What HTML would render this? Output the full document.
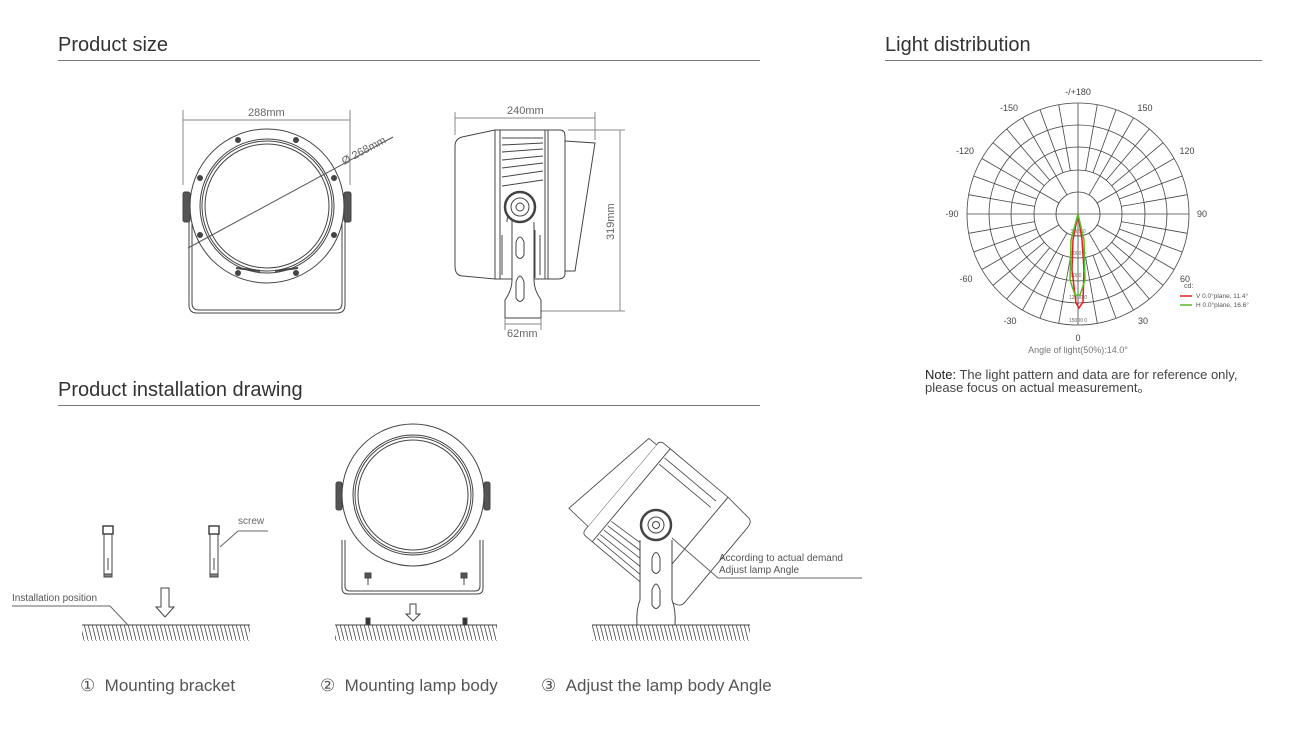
<!DOCTYPE html>
<html><head><meta charset="utf-8"><style>
html,body{margin:0;padding:0;background:#fff;}
svg{display:block;font-family:"Liberation Sans",sans-serif;}
</style></head><body>
<svg id="s" width="1305" height="730" viewBox="0 0 1305 730" xmlns="http://www.w3.org/2000/svg">
<defs>
<pattern id="hatch" width="4" height="16" patternUnits="userSpaceOnUse">
<line x1="0" y1="0" x2="4" y2="16" stroke="#444" stroke-width="0.8"/>
</pattern>
</defs>
<g fill="#333" font-size="20">
<text x="58" y="51">Product size</text>
<text x="885" y="51">Light distribution</text>
<text x="58" y="396">Product installation drawing</text>
</g>
<g stroke="#777" stroke-width="1">
<line x1="58" y1="60.5" x2="760" y2="60.5"/>
<line x1="885" y1="60.5" x2="1262" y2="60.5"/>
<line x1="58" y1="405.5" x2="760" y2="405.5"/>
</g>

<!-- FRONT VIEW -->
<g fill="none" stroke="#444" stroke-width="1">
<line x1="183" y1="110" x2="183" y2="185" stroke="#888"/>
<line x1="350" y1="110" x2="350" y2="185" stroke="#888"/>
<line x1="183" y1="120" x2="350" y2="120" stroke="#888"/>
<path d="M189 195 V305 Q189 313 197 313 H337 Q345 313 345 305 V195"/>
<path d="M192 195 V303 Q192 310 199 310 H335 Q342 310 342 303 V195"/>
<circle cx="267" cy="206" r="77" fill="#fff"/>
<circle cx="267" cy="206" r="67"/>
<circle cx="267" cy="206" r="65"/>
<circle cx="267" cy="206" r="62"/>
<rect x="183" y="192" width="7" height="30" rx="2" fill="#555"/>
<rect x="344" y="192" width="7" height="30" rx="2" fill="#555"/>
<path d="M236 268 L260 271 M275 271 L298 268" stroke-width="2"/>
<line x1="188" y1="248" x2="393" y2="137" stroke="#555"/>
</g>
<g fill="#444">
<circle cx="238" cy="140" r="3"/><circle cx="296" cy="140" r="3"/>
<circle cx="200" cy="178" r="3"/><circle cx="334" cy="178" r="3"/>
<circle cx="200" cy="235" r="3"/><circle cx="334" cy="235" r="3"/>
<circle cx="238" cy="273" r="3"/><circle cx="296" cy="273" r="3"/>
</g>
<text x="248" y="116" font-size="11" fill="#666">288mm</text>
<text x="344" y="165" font-size="11" fill="#666" transform="rotate(-28 344 165)">Ø 268mm</text>

<!-- SIDE VIEW -->
<g fill="none" stroke="#444" stroke-width="1">
<line x1="455" y1="112" x2="455" y2="135" stroke="#888"/>
<line x1="595" y1="112" x2="595" y2="140" stroke="#888"/>
<line x1="455" y1="118" x2="595" y2="118" stroke="#888"/>
<line x1="568" y1="130" x2="625" y2="130" stroke="#888"/>
<line x1="541" y1="311" x2="625" y2="311" stroke="#888"/>
<line x1="620" y1="130" x2="620" y2="311" stroke="#888"/>
<path d="M495 130 L462 137 Q455 139 455 146 V266 Q455 276 463 276 L495 279 Z" fill="#fff"/>
<rect x="495" y="130" width="53" height="149" fill="#fff"/>
<path d="M548 130 H560 Q565 130 565 136 V273 Q565 279 558 279 H548 Z" fill="#fff"/>
<path d="M565 141 L595 143 L575 271 L565 271"/>
<line x1="500" y1="130" x2="500" y2="279"/>
<line x1="545" y1="130" x2="545" y2="279"/>
<path d="M502 138 H543 M502 145 L543 143 M502 152 L543 149 M502 160 L543 156 M502 168 L543 163 M502 177 L543 171 M502 186 L543 180"/>
<path d="M527 230 V278 M535 230 V278 M502 235 V275 M540 235 V275"/>
<path d="M507 222 Q507 214 512 211 L512 280 Q512 290 505 300 V318 H541 V300 Q534 290 534 280 V222" fill="#fff"/>
<circle cx="520" cy="207" r="15" fill="#fff" stroke-width="2.5"/>
<circle cx="520" cy="207" r="9"/>
<circle cx="520" cy="207" r="4"/>
<path d="M516 242 Q520 232 524 242 V255 Q520 262 516 255 Z"/>
<path d="M516 282 Q520 270 524 282 V298 Q520 305 516 298 Z"/>
<line x1="505" y1="318" x2="505" y2="330" stroke="#888"/>
<line x1="541" y1="318" x2="541" y2="330" stroke="#888"/>
<line x1="505" y1="324" x2="541" y2="324" stroke="#888"/>
</g>
<text x="507" y="114" font-size="11" fill="#666">240mm</text>
<text x="614" y="240" font-size="11" fill="#666" transform="rotate(-90 614 240)">319mm</text>
<text x="507" y="337" font-size="11" fill="#666">62mm</text>

<!-- POLAR -->
<g id="polar" fill="none" stroke="#444" stroke-width="0.8"></g>
<g font-size="9" fill="#444" text-anchor="middle">
<text x="1078" y="95">-/+180</text>
<text x="1009" y="111">-150</text><text x="1145" y="111">150</text>
<text x="965" y="154">-120</text><text x="1187" y="154">120</text>
<text x="952" y="217">-90</text><text x="1202" y="217">90</text>
<text x="966" y="282">-60</text><text x="1185" y="282">60</text>
<text x="1010" y="324">-30</text><text x="1143" y="324">30</text>
<text x="1078" y="341">0</text>
<text x="1078" y="353" fill="#777">Angle of light(50%):14.0°</text>
</g>
<g font-size="5" fill="#666" text-anchor="middle">
<text x="1078" y="233">3000 0</text><text x="1078" y="255">6000 0</text>
<text x="1078" y="277">9000 0</text><text x="1078" y="299">12000 0</text><text x="1078" y="322">15000 0</text>
</g>
<path d="M1078 214 L1073 240 L1072 270 L1076 303 L1079 308 L1083 302 L1084 270 L1082 240 Z" fill="none" stroke="#e02020" stroke-width="1.5"/>
<path d="M1078 214 L1071 240 L1070 280 L1075 295 L1080 295 L1085 280 L1084 240 Z" fill="none" stroke="#5cb82c" stroke-width="1.5"/>
<text x="1184" y="288" font-size="7" fill="#555">cd:</text>
<line x1="1180" y1="296" x2="1192" y2="296" stroke="#e02020" stroke-width="1.5"/>
<line x1="1180" y1="305" x2="1192" y2="305" stroke="#5cb82c" stroke-width="1.5"/>
<text x="1196" y="298" font-size="6.5" fill="#555">V 0.0°plane,  11.4°</text>
<text x="1196" y="307" font-size="6.5" fill="#555">H 0.0°plane,  16.6°</text>
<text x="925" y="379" font-size="13" fill="#444"><tspan fill="#222">Note:</tspan> The light pattern and data are for reference only,</text>
<text x="925" y="392" font-size="13" fill="#444">please focus on actual measurement。</text>

<!-- INSTALLATION -->
<g stroke="#444" fill="none" stroke-width="1">
<rect x="82" y="625" width="168" height="16" fill="url(#hatch)" stroke="none"/>
<line x1="82" y1="625" x2="250" y2="625"/>
<rect x="335" y="625" width="162" height="16" fill="url(#hatch)" stroke="none"/>
<line x1="335" y1="625" x2="497" y2="625"/>
<rect x="592" y="625" width="158" height="16" fill="url(#hatch)" stroke="none"/>
<line x1="592" y1="625" x2="750" y2="625"/>
<path d="M12 606 H110 L128 625" stroke="#666"/>
<path d="M238 531 H268 M238 531 L220 547" stroke="#666"/>
<path d="M161 588 H169 V607 H174 L165 617 L156 607 H161 Z"/>
<g id="bolt">
<rect x="103" y="526" width="10" height="8" fill="#fff" stroke-width="1.5"/>
<rect x="104" y="534" width="8" height="40"/>
<path d="M108 558 V570"/>
<rect x="104" y="574" width="8" height="3" fill="#888"/>
</g>
<use href="#bolt" x="106"/>
<!-- lamp 2 -->
<path d="M342 540 V588 Q342 594 348 594 H477 Q483 594 483 588 V540"/>
<path d="M345 540 V586 Q345 591 350 591 H475 Q480 591 480 586 V540"/>
<circle cx="413" cy="495" r="71" fill="#fff"/>
<circle cx="413" cy="495" r="60"/><circle cx="413" cy="495" r="58"/><circle cx="413" cy="495" r="55"/>
<rect x="336" y="482" width="6" height="28" rx="2" fill="#555"/>
<rect x="484" y="482" width="6" height="28" rx="2" fill="#555"/>
<path d="M410 604 H416 V614 H420 L413 621 L406 614 H410 Z"/>
<rect x="365" y="573" width="6" height="5" fill="#555"/><rect x="461" y="573" width="6" height="5" fill="#555"/>
<path d="M368 578 V585 M464 578 V585"/>
<rect x="366" y="618" width="4" height="7" fill="#333"/><rect x="463" y="618" width="4" height="7" fill="#333"/>
<!-- lamp 3 -->
<g transform="translate(658 522) rotate(-140) scale(0.82) translate(-656 -525)">
<path d="M610 455 L575 462 Q568 464 568 471 V590 Q568 600 576 600 L610 603 Z" fill="#fff"/>
<rect x="610" y="455" width="92" height="148" fill="#fff"/>
<path d="M702 455 H712 Q718 455 718 461 V597 Q718 603 711 603 H702 Z" fill="#fff"/>
<path d="M718 466 L750 468 L730 596 L718 596" fill="#fff"/>
<path d="M618 462 H700 M618 470 L700 468 M618 478 L700 475 M618 486 L700 482 M618 494 L700 489 M618 580 L700 580 M618 590 L700 590"/>
</g>
<path d="M640 540 L640 600 Q636 610 637 625 H675 Q676 610 672 600 L672 540" fill="#fff"/>
<circle cx="656" cy="525" r="15" fill="#fff" stroke-width="2.5"/>
<circle cx="656" cy="525" r="8"/><circle cx="656" cy="525" r="3.5"/>
<path d="M652 558 Q656 547 660 558 V570 Q656 577 652 570 Z"/>
<path d="M652 590 Q656 578 660 590 V605 Q656 612 652 605 Z"/>
<path d="M672 538 L718 578 H862" stroke="#666"/>
</g>
<text x="12" y="601" font-size="10" fill="#555">Installation position</text>
<text x="238" y="524" font-size="10" fill="#666">screw</text>
<text x="719" y="561" font-size="10" fill="#555">According to actual demand</text>
<text x="719" y="573" font-size="10" fill="#555">Adjust lamp Angle</text>

<g font-size="17" fill="#555">
<text x="80" y="691">①&#160;&#160;Mounting bracket</text>
<text x="320" y="691">②&#160;&#160;Mounting lamp body</text>
<text x="541" y="691">③&#160;&#160;Adjust the lamp body Angle</text>
</g>
</svg>
<script>
var g=document.getElementById('polar'),cx=1078,cy=214,h='';
[22,44,67,89,111].forEach(function(r){h+='<circle cx="'+cx+'" cy="'+cy+'" r="'+r+'"/>';});
for(var a=0;a<360;a+=10){var t=a*Math.PI/180,r0=(a%90==0)?0:(a%30==0?22:44);
h+='<line x1="'+(cx+r0*Math.cos(t)).toFixed(1)+'" y1="'+(cy+r0*Math.sin(t)).toFixed(1)+'" x2="'+(cx+111*Math.cos(t)).toFixed(1)+'" y2="'+(cy+111*Math.sin(t)).toFixed(1)+'"/>';}
g.innerHTML=h;
</script>
</body></html>
